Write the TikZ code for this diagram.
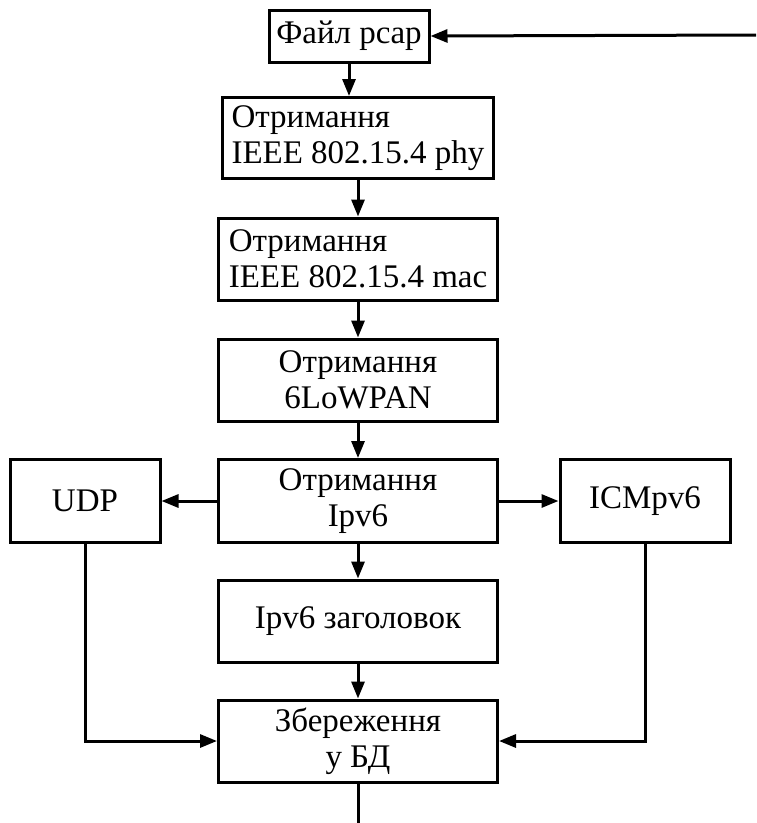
\documentclass[tikz,border=0pt]{standalone}
\usepackage{fontspec}
\setmainfont{Liberation Serif}
\usetikzlibrary{positioning, arrows.meta}

\begin{document}
\begin{tikzpicture}[
  x=1pt, y=-1pt,
  box/.style={draw, line width=3pt, minimum width=279pt, minimum height=82pt, align=center,
    font=\fontsize{33}{36}\selectfont, inner sep=2pt},
  leftbox/.style={box, align=left},
  arrow/.style={-{Triangle[length=17pt, width=13pt]}, line width=3pt},
  plain/.style={line width=3pt}
]
  \useasboundingbox (0,0) rectangle (756,823);

  % main column
  \node[box, minimum width=160pt, minimum height=52pt] (pcap) at (349,36) {Файл pcap};
  \node[leftbox, minimum width=271pt, minimum height=81pt] (phy) at (358,138) {Отримання\\IEEE 802.15.4 phy};
  \node[leftbox] (mac) at (358,259) {Отримання\\IEEE 802.15.4 mac};
  \node[box] (lowpan) at (358,380) {Отримання\\6LoWPAN};
  \node[box, minimum height=83pt] (ipv6) at (358,501) {Отримання\\Ipv6};
  \node[box] (hdr) at (358,621) {Ipv6 заголовок};
  \node[box] (db) at (358,741) {Збереження\\у БД};

  % side boxes
  \node[box, minimum width=150pt, minimum height=83pt] (udp) at (85,501) {UDP};
  \node[box, minimum width=170pt, minimum height=83pt] (icmp) at (645,501) {ICMpv6};

  % loop ends
  \coordinate (back) at (756,35);
  \coordinate (out) at (358,823);

  % flow arrows
  \draw[arrow] (pcap.south) -- (pcap.south |- phy.north);
  \draw[arrow] (phy) -- (mac);
  \draw[arrow] (mac) -- (lowpan);
  \draw[arrow] (lowpan) -- (ipv6);
  \draw[arrow] (ipv6) -- (hdr);
  \draw[arrow] (hdr) -- (db);
  \draw[arrow] (ipv6.west) -- (udp.east);
  \draw[arrow] (ipv6.east) -- (icmp.west);
  \draw[arrow] (udp.south) |- (db.west);
  \draw[arrow] (icmp.south) |- (db.east);
  \draw[arrow] (back) -- (pcap.east);
  \draw[plain] (db.south) -- (out);
\end{tikzpicture}
\end{document}
